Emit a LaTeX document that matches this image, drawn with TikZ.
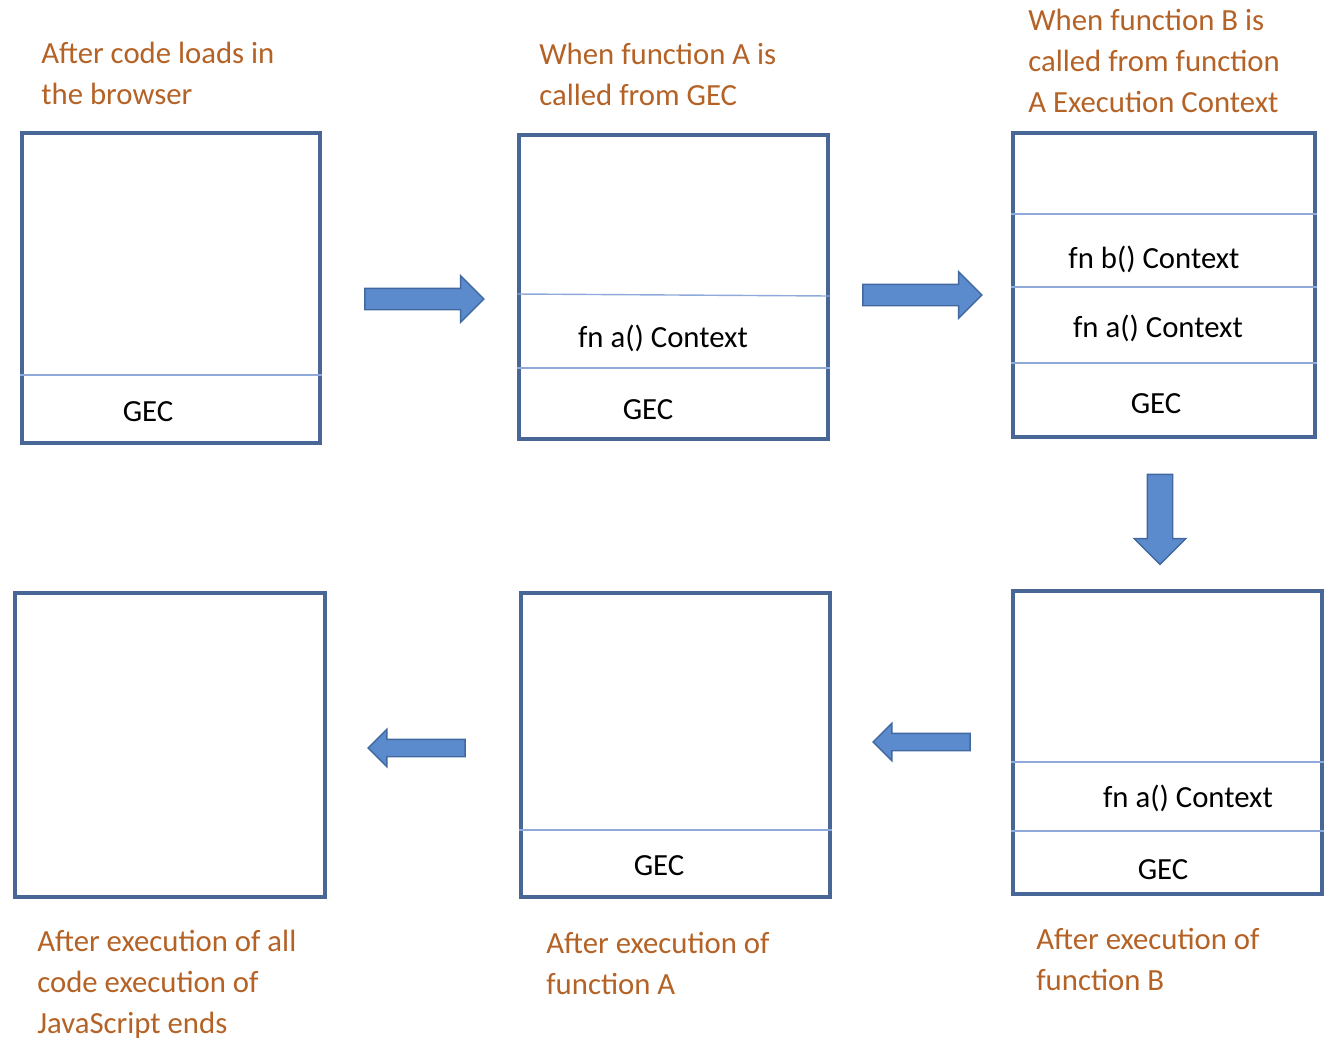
\documentclass[tikz,border=0pt]{standalone}
\usepackage{fontspec}
\setmainfont{Carlito}
\usetikzlibrary{shapes.arrows}

\definecolor{captioncol}{RGB}{180,98,38}
\definecolor{boxline}{RGB}{72,102,150}
\definecolor{divline}{RGB}{143,170,218}
\definecolor{arrowfill}{RGB}{91,139,205}
\definecolor{arrowline}{RGB}{65,105,160}

\tikzset{
    stackbox/.style={draw=boxline, line width=2pt, rectangle, inner sep=0pt},
    divider/.style={draw=divline, line width=0.8pt},
    caption/.style={text=captioncol, align=left, inner sep=0pt, anchor=base west},
    frame/.style={text=black, inner sep=0pt, anchor=base},
    blockarrow/.style={single arrow, draw=arrowline, fill=arrowfill, line width=0.8pt,
        single arrow head indent=0pt},
}

\begin{document}
\begin{tikzpicture}[x=0.02cm, y=-0.02cm, font=\fontsize{17.5}{23.2}\selectfont]

    \useasboundingbox (0,0) rectangle (1336,1046);

    \coordinate (C1) at (171, 288);
    \coordinate (C2) at (673.5, 287);
    \coordinate (C3) at (1164, 285);
    \coordinate (C4) at (1167.5, 742.5);
    \coordinate (C5) at (675.5, 745);
    \coordinate (C6) at (170, 745);

    \node[stackbox, minimum width=5.96cm, minimum height=6.2cm]  (S1) at (C1) {};
    \node[stackbox, minimum width=6.18cm, minimum height=6.08cm] (S2) at (C2) {};
    \node[stackbox, minimum width=6.04cm, minimum height=6.08cm] (S3) at (C3) {};
    \node[stackbox, minimum width=6.18cm, minimum height=6.06cm] (S4) at (C4) {};
    \node[stackbox, minimum width=6.18cm, minimum height=6.08cm] (S5) at (C5) {};
    \node[stackbox, minimum width=6.2cm, minimum height=6.08cm]  (S6) at (C6) {};

    \draw[divider] (S1.west |- 0,375) -- (S1.east |- 0,375);

    \draw[divider] (S2.west |- 0,294) -- (S2.east |- 0,296);
    \draw[divider] (S2.west |- 0,368) -- (S2.east |- 0,368);

    \draw[divider] (S3.west |- 0,214) -- (S3.east |- 0,214);
    \draw[divider] (S3.west |- 0,287) -- (S3.east |- 0,287);
    \draw[divider] (S3.west |- 0,363) -- (S3.east |- 0,363);

    \draw[divider] (S4.west |- 0,762) -- (S4.east |- 0,762);
    \draw[divider] (S4.west |- 0,831) -- (S4.east |- 0,831);

    \draw[divider] (S5.west |- 0,830) -- (S5.east |- 0,830);

    \node[frame] (L1)  at (148, 421)  {GEC};
    \node[frame] (L2)  at (663, 347)  {fn a() Context};
    \node[frame] (L3)  at (648, 419)  {GEC};
    \node[frame] (L4)  at (1154, 268) {fn b() Context};
    \node[frame] (L5)  at (1158, 337) {fn a() Context};
    \node[frame] (L6)  at (1156, 413) {GEC};
    \node[frame] (L7)  at (1188, 807) {fn a() Context};
    \node[frame] (L8)  at (1163, 879) {GEC};
    \node[frame] (L9)  at (659, 875)  {GEC};

    % base anchor sits on the last line
    \node[caption] (T1) at (41, 104)   {After code loads in\\the browser};
    \node[caption] (T2) at (539, 105)  {When function A is\\called from GEC};
    \node[caption] (T3) at (1028, 112) {When function B is\\called from function\\A Execution Context};
    \node[caption] (T4) at (1036, 990) {After execution of\\function B};
    \node[caption] (T5) at (546, 994)  {After execution of\\function A};
    \node[caption] (T6) at (37, 1033)  {After execution of all\\code execution of\\JavaScript ends};

    \node[blockarrow, minimum height=2.38cm, inner xsep=0pt, inner ysep=0.2cm,
          single arrow head extend=0.25cm] (A1) at (419, 299) {};
    \node[blockarrow, minimum height=2.38cm, inner xsep=0pt, inner ysep=0.2cm,
          single arrow head extend=0.25cm] (A2) at (917, 295) {};
    \node[blockarrow, minimum height=1.8cm, inner xsep=0.24cm, inner ysep=0pt,
          single arrow head extend=0.26cm, shape border rotate=270] (A3) at (1160, 513) {};
    \node[blockarrow, minimum height=1.94cm, inner xsep=0pt, inner ysep=0.16cm,
          single arrow head extend=0.2cm, shape border rotate=180] (A4) at (926, 742) {};
    \node[blockarrow, minimum height=1.94cm, inner xsep=0pt, inner ysep=0.16cm,
          single arrow head extend=0.2cm, shape border rotate=180] (A5) at (421, 748) {};

\end{tikzpicture}
\end{document}
